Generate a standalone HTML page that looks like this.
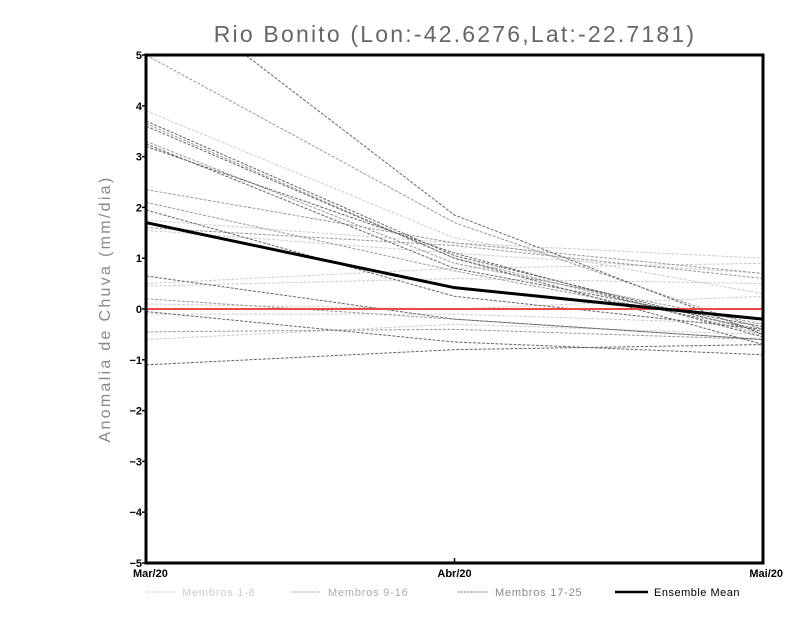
<!DOCTYPE html>
<html><head><meta charset="utf-8"><style>
body{margin:0;background:#fff;}
svg text{font-family:"Liberation Sans",sans-serif;}
</style></head><body>
<svg id="chart" width="800" height="618" viewBox="0 0 800 618">
<defs><clipPath id="clip"><rect x="146" y="55" width="617" height="508"/></clipPath></defs>
<text x="455" y="42" text-anchor="middle" font-size="23" fill="#666" letter-spacing="2.2">Rio Bonito (Lon:-42.6276,Lat:-22.7181)</text>
<text transform="translate(110,309) rotate(-90)" text-anchor="middle" font-size="16" fill="#888" letter-spacing="2.3">Anomalia de Chuva (mm/dia)</text>
<g id="series" clip-path="url(#clip)"></g>
<g id="axes"></g>
<g>
<line x1="146" y1="592" x2="176" y2="592" stroke="#ccc" stroke-dasharray="2,1"/>
<text x="182" y="596" font-size="11" fill="#ccc" letter-spacing="0.8">Membros 1-8</text>
<line x1="291" y1="592" x2="321" y2="592" stroke="#aaa" stroke-dasharray="2,1"/>
<text x="328" y="596" font-size="11" fill="#aaa" letter-spacing="0.8">Membros 9-16</text>
<line x1="458" y1="592" x2="488" y2="592" stroke="#777" stroke-dasharray="2,1"/>
<text x="495" y="596" font-size="11" fill="#888" letter-spacing="0.8">Membros 17-25</text>
<line x1="615" y1="592" x2="648" y2="592" stroke="#000" stroke-width="2.5"/>
<text x="654" y="596" font-size="11" fill="#000" letter-spacing="0.5">Ensemble Mean</text>
</g>
</svg>
<script>
const categories=["Mar/20","Abr/20","Mai/20"];
const yTicks=[-5,-4,-3,-2,-1,0,1,2,3,4,5];
const members1_8=[[3.9,1.4,0.3],[1.75,1.3,1.0],[0.5,0.8,0.9],[0.45,0.6,0.5],[0.1,0.0,0.25],[-0.1,-0.1,-0.3],[-0.6,-0.3,-0.5],[1.55,1.1,0.7]];
const members9_16=[[5.0,1.7,-0.4],[3.65,1.0,-0.5],[3.3,0.9,-0.3],[2.35,1.3,0.7],[2.1,0.75,-0.4],[0.2,-0.2,-0.6],[-0.45,-0.4,-0.6],[1.6,1.25,0.6]];
const members17_25=[[6.5,1.85,-0.5],[3.7,1.05,-0.45],[3.6,1.0,-0.7],[3.25,0.8,-0.35],[3.2,1.1,-0.55],[1.95,0.25,-0.4],[0.65,-0.2,-0.6],[-0.05,-0.65,-0.9],[-1.1,-0.8,-0.7]];
const meanValues=[1.7,0.42,-0.2];
const X0=146,X1=763,Y0=563,Y1=55,ymin=-5,ymax=5;
const xs=i=>X0+(X1-X0)*i/(categories.length-1);
const ys=v=>Y0-(v-ymin)/(ymax-ymin)*(Y0-Y1);
const NS="http://www.w3.org/2000/svg";
const sg=document.getElementById('series'),ag=document.getElementById('axes');
function mk(tag,attrs,parent){const e=document.createElementNS(NS,tag);for(const k in attrs)e.setAttribute(k,attrs[k]);parent.appendChild(e);return e;}
function pts(a){return a.map((v,i)=>xs(i)+","+ys(v)).join(" ");}
[[members1_8,"#ccc"],[members9_16,"#999"],[members17_25,"#666"]].forEach(([grp,c],gi)=>{
 grp.forEach((s,j)=>{const p=mk('polyline',{points:pts(s),fill:"none",stroke:c,"stroke-width":1,"stroke-dasharray":"3,1.5"},sg);
 
 });
});
const z=mk('line',{x1:X0,x2:X1,y1:ys(0),y2:ys(0),stroke:"#f04848","stroke-width":2},sg);


const m=mk('polyline',{points:pts(meanValues),fill:"none",stroke:"#000","stroke-width":3},sg);


const fr=mk('rect',{x:X0,y:Y1,width:X1-X0,height:Y0-Y1,fill:"none",stroke:"#000","stroke-width":3},ag);


yTicks.forEach(t=>{const y=ys(t);
 mk('line',{x1:X0-4,x2:X0,y1:y,y2:y,stroke:"#000","stroke-width":1.5},ag);
 const tx=mk('text',{x:X0-4,y:y+4,"text-anchor":"end","font-size":11,"font-weight":"bold"},ag);
 tx.textContent=t<0?"\u2212"+(-t):t;
 
 });
categories.forEach((c,i)=>{const x=xs(i);
 mk('line',{x1:x,x2:x,y1:Y0-5,y2:Y0,stroke:"#000","stroke-width":1.5},ag);
 const tx=mk('text',{x:x,y:Y0+14,"text-anchor":i==0?"start":(i==categories.length-1?"end":"middle"),"font-size":11,"font-weight":"bold",dx:i==0?-13:(i==categories.length-1?20:0)},ag);
 tx.textContent=c;
 
 });
</script>
</body></html>
